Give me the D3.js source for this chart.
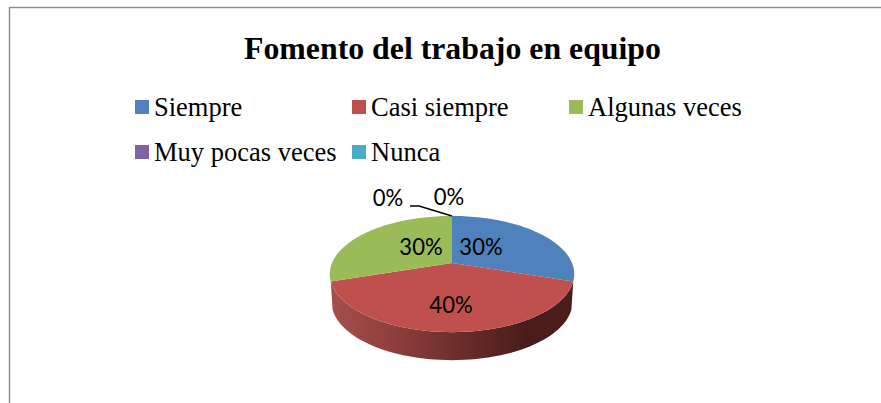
<!DOCTYPE html>
<meta charset="utf-8">
<style>
  html, body { margin: 0; background: #fff; }
  svg { display: block; }
  .serif { font-family: "Liberation Serif", serif; fill: #000; }
  .lbl { font-family: Lato, sans-serif; font-size: 24px; fill: #000; text-anchor: middle; }
</style>
<body>
  <div id="chart"></div>
  <script src="https://d3js.org/d3.v7.min.js"></script>
  <script>
    var categories = ["Siempre", "Casi siempre", "Algunas veces", "Muy pocas veces", "Nunca"];
    var values = [30, 40, 30, 0, 0];
    var labels = ["30%", "40%", "30%", "0%", "0%"];
    var colors = ["#4f81bd", "#c0504d", "#9bbb59", "#8064a2", "#4bacc6"];

    var width = 881, height = 403;

    var svg = d3.select("#chart").append("svg")
      .attr("width", width)
      .attr("height", height);

    // chart frame, cut off by the screenshot on right and bottom
    svg.append("rect")
      .attr("x", 9.5).attr("y", 7.5)
      .attr("width", 900).attr("height", 420)
      .style("fill", "#fff")
      .style("stroke", "#8c8c8c")
      .style("stroke-width", 1.4);

    svg.append("text")
      .attr("class", "serif")
      .attr("x", 452.5).attr("y", 59)
      .attr("text-anchor", "middle")
      .style("font-size", "31.8px")
      .style("font-weight", "bold")
      .text("Fomento del trabajo en equipo");

    // legend
    var legendX = d3.scalePoint().domain([0, 1, 2]).range([135, 569]);
    var legendY = d3.scalePoint().domain([0, 1]).range([100, 145]);
    var legend = svg.selectAll(".legend")
      .data(categories)
      .enter().append("g")
      .attr("class", "legend")
      .attr("transform", function(d, i) {
        return "translate(" + legendX(i % 3) + "," + legendY(Math.floor(i / 3)) + ")";
      });
    legend.append("rect")
      .attr("width", 14).attr("height", 14)
      .style("fill", function(d, i) { return colors[i]; });
    legend.append("text")
      .attr("class", "serif")
      .attr("x", 19).attr("y", 16)
      .style("font-size", "26.5px")
      .text(function(d) { return d; });

    // 3d pie: flat circle pushed through a perspective so the apex sits above the ellipse middle
    var cx = 452, cy = 263, R = 120, B = 56, k = 0.19, depth = 28;

    function project(a, r, drop) {
      var px = Math.sin(a) * r, py = -Math.cos(a) * r;
      var w = 1 - k * py;
      var shrink = drop ? 0.985 : 1;
      return [cx + R * shrink * px / w, cy + (drop || 0) + B * py / w];
    }

    var pie = d3.pie().sort(null).value(function(d) { return d; });
    var slices = pie(values);

    function curve(a0, a1, drop) {
      return d3.range(0, 61).map(function(i) {
        return project(a0 + (a1 - a0) * i / 60, 1, drop);
      });
    }

    var line = d3.line();

    var defs = svg.append("defs");
    var grad = defs.append("linearGradient")
      .attr("id", "side")
      .attr("gradientUnits", "userSpaceOnUse")
      .attr("x1", cx - R).attr("x2", cx + R)
      .attr("y1", 0).attr("y2", 0);
    [[0, "#a44f4d"], [0.25, "#8f3f3d"], [0.5, "#6f2f2d"], [0.8, "#4a1d1c"], [1, "#4a1d1c"]].forEach(function(s) {
      grad.append("stop").attr("offset", s[0]).attr("stop-color", s[1]);
    });

    // side wall, only the red slice faces the viewer
    var front = slices[1];
    svg.append("path")
      .attr("d", line(curve(front.startAngle, front.endAngle, 0)
        .concat(curve(front.endAngle, front.startAngle, depth))) + "Z")
      .style("fill", "url(#side)");

    // top faces
    svg.selectAll(".slice")
      .data(slices)
      .enter().append("path")
      .attr("class", "slice")
      .attr("d", function(d) {
        return line([project(0, 0)].concat(curve(d.startAngle, d.endAngle))) + "Z";
      })
      .style("fill", function(d, i) { return colors[i]; });

    // leader for the zero slices
    svg.append("path")
      .attr("d", line([[452, 216], [419, 206], [410, 206]]))
      .style("fill", "none")
      .style("stroke", "#000")
      .style("stroke-width", 1.4);

    // lato squeezed a bit, closer to the calibri look of the original
    var labelPos = [[481, 255], [451, 313], [421, 255], [388, 206], [449, 205]];
    svg.selectAll(".lbl")
      .data(labels)
      .enter().append("text")
      .attr("class", "lbl")
      .attr("transform", function(d, i) {
        return "translate(" + labelPos[i][0] + "," + labelPos[i][1] + ") scale(0.92,1)";
      })
      .text(function(d) { return d; });
  </script>
</body>
